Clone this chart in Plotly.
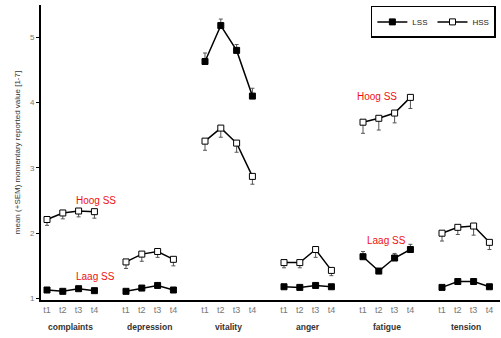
import plotly.graph_objects as go

categories = ["complaints", "depression", "vitality", "anger", "fatigue", "tension"]
time_labels = ["t1", "t2", "t3", "t4"]

# LSS (Laag SS) means and +SEM, 4 time points per category (in category order)
lss_mean = [1.13, 1.11, 1.15, 1.12,
            1.11, 1.16, 1.20, 1.13,
            4.63, 5.18, 4.80, 4.10,
            1.18, 1.17, 1.20, 1.18,
            1.64, 1.42, 1.62, 1.75,
            1.17, 1.26, 1.26, 1.18]
lss_sem = [0.02, 0.02, 0.02, 0.02,
           0.02, 0.02, 0.03, 0.02,
           0.13, 0.10, 0.09, 0.12,
           0.02, 0.02, 0.02, 0.02,
           0.08, 0.04, 0.07, 0.08,
           0.02, 0.04, 0.04, 0.03]
# HSS (Hoog SS) means and SEM
hss_mean = [2.21, 2.31, 2.34, 2.33,
            1.56, 1.68, 1.72, 1.60,
            3.41, 3.61, 3.38, 2.87,
            1.55, 1.55, 1.75, 1.43,
            3.70, 3.76, 3.84, 4.08,
            2.00, 2.09, 2.11, 1.86]
hss_sem = [0.09, 0.09, 0.09, 0.10,
           0.10, 0.11, 0.09, 0.10,
           0.14, 0.14, 0.14, 0.12,
           0.08, 0.08, 0.12, 0.08,
           0.17, 0.18, 0.15, 0.17,
           0.12, 0.11, 0.14, 0.11]

note_texts = ["Hoog SS", "Laag SS", "Hoog SS", "Laag SS"]
note_x = [3.1, 3.1, 20.9, 21.5]
note_y = [2.50, 1.34, 4.10, 1.89]

FONT = "Liberation Sans, Arial, sans-serif"
n_t = len(time_labels)
step = n_t + 1

fig = go.Figure()
for g, cat in enumerate(categories):
    xs = [g * step + i for i in range(n_t)]
    sl = slice(g * n_t, (g + 1) * n_t)
    fig.add_trace(go.Scatter(
        x=xs, y=hss_mean[sl], mode="lines+markers", name="HSS",
        legendgroup="HSS", showlegend=(g == 0), legendrank=2,
        line=dict(color="black", width=1.5),
        marker=dict(symbol="square", size=6, color="white",
                    line=dict(color="black", width=1)),
        error_y=dict(type="data", symmetric=False, array=[0] * n_t,
                     arrayminus=hss_sem[sl], color="#555", thickness=1, width=2),
    ))
    fig.add_trace(go.Scatter(
        x=xs, y=lss_mean[sl], mode="lines+markers", name="LSS",
        legendgroup="LSS", showlegend=(g == 0), legendrank=1,
        line=dict(color="black", width=1.5),
        marker=dict(symbol="square", size=6, color="black",
                    line=dict(color="black", width=1)),
        error_y=dict(type="data", symmetric=False, array=lss_sem[sl],
                     arrayminus=[0] * n_t, color="#555", thickness=1, width=2),
    ))

tickvals = [g * step + i for g in range(len(categories)) for i in range(n_t)]
ticktext = [t for _ in categories for t in time_labels]

annotations = []
for g, cat in enumerate(categories):
    annotations.append(dict(
        x=g * step + (n_t - 1) / 2, y=0, xref="x", yref="paper",
        text="<b>" + cat + "</b>", showarrow=False, yanchor="middle",
        yshift=-27, font=dict(family=FONT, size=8.5, color="#333")))
for t, x, y in zip(note_texts, note_x, note_y):
    annotations.append(dict(x=x, y=y, xref="x", yref="y", text=t,
                            showarrow=False,
                            font=dict(family=FONT, size=10, color="#ee1111")))

fig.update_layout(
    width=501, height=338,
    margin=dict(l=41, r=1, t=5, b=38, autoexpand=False),
    paper_bgcolor="white", plot_bgcolor="white",
    font=dict(family=FONT, size=8, color="#333"),
    showlegend=True,
    legend=dict(orientation="h", x=0.991, y=0.997, xanchor="right", yanchor="top",
                bordercolor="black", borderwidth=1.5, bgcolor="white",
                font=dict(family=FONT, size=8, color="#222"),
                itemwidth=30, traceorder="normal"),
    annotations=annotations,
)
fig.update_xaxes(range=[-0.38, 28.67], tickvals=tickvals, ticktext=ticktext,
                 showgrid=False, zeroline=False, showline=True,
                 linecolor="black", linewidth=2, ticks="",
                 tickfont=dict(family=FONT, size=9, color="#777"))
fig.update_yaxes(range=[0.977, 5.495], tickvals=[1, 2, 3, 4, 5],
                 showgrid=False, zeroline=False, showline=True,
                 linecolor="black", linewidth=2, ticks="outside", ticklen=3,
                 tickcolor="black",
                 tickfont=dict(family=FONT, size=8, color="#777"),
                 title=dict(text="mean (+SEM) momentary reported value [1-7]",
                            font=dict(family=FONT, size=8, color="#333"),
                            standoff=8))

fig.write_html("out.html", config={"displayModeBar": False},
               post_script="document.body.style.margin='0';document.body.style.padding='0';")
